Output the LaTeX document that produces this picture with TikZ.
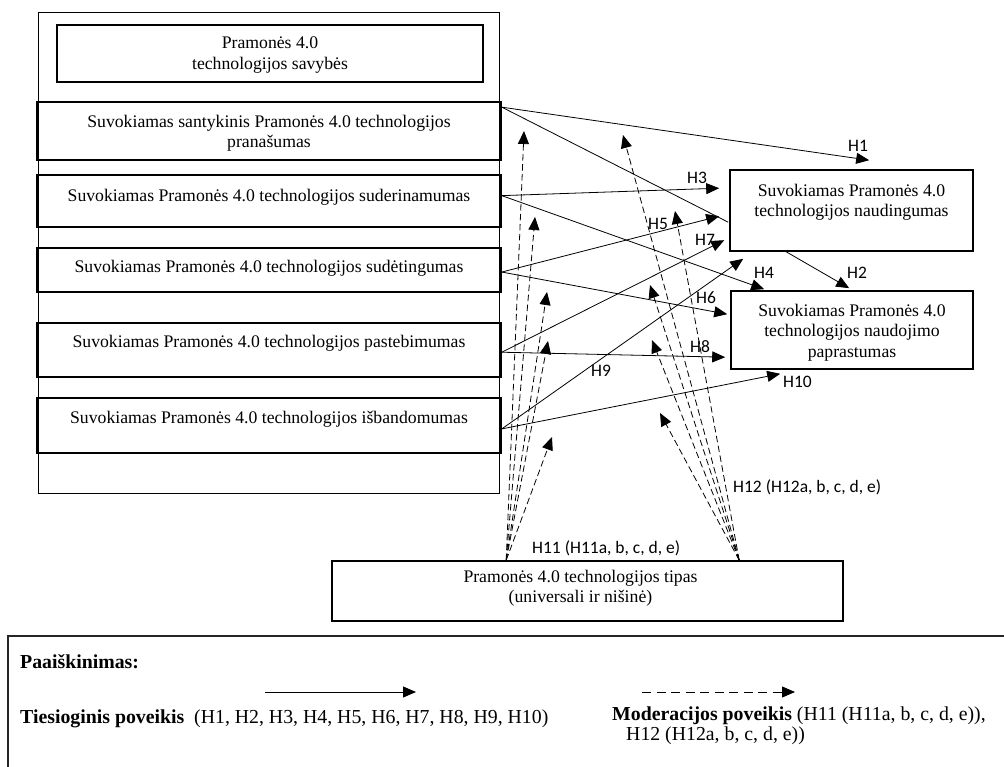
\documentclass[tikz,border=0pt]{standalone}
\usepackage{fontspec}
\setmainfont{Liberation Serif}
\newfontfamily\hypfont{Carlito}
\usetikzlibrary{arrows.meta,calc}

\tikzset{
  panel/.style={draw, line width=0.8pt, inner sep=0pt},
  factor/.style={draw, line width=1.6pt, inner sep=0pt},
  boxtext/.style={anchor=north, inner sep=0pt, align=center,
    font=\fontsize{17.7pt}{20.5pt}\selectfont},
  hyp/.style={inner sep=0pt, font=\hypfont\fontsize{17.5pt}{20pt}\selectfont},
  tip/.style={-{Triangle[length=13pt,width=11pt]}},
  direct/.style={line width=0.8pt, tip},
  moder/.style={line width=0.8pt, dash pattern=on 6.5pt off 3.5pt, tip},
  legendtext/.style={inner sep=0pt, anchor=west, align=left,
    font=\fontsize{19.8pt}{20pt}\selectfont},
}

\begin{document}
\begin{tikzpicture}[x=1pt,y=-1pt]
\clip (0,0) rectangle (1004,767);

% left panel with the technology attributes
\node[panel, minimum width=461pt, minimum height=481pt] (panel) at (268.5,252.5) {};
\node[factor, minimum width=426pt, minimum height=57pt,
  label={[boxtext,yshift=-12.4pt]north:Pramonės 4.0\\technologijos savybės}] (title) at (270,53.5) {};
\node[factor, minimum width=464pt, minimum height=58pt,
  label={[boxtext,yshift=-13.4pt]north:Suvokiamas santykinis Pramonės 4.0 technologijos\\pranašumas}] (b1) at (269,131) {};
\node[factor, minimum width=464pt, minimum height=52pt,
  label={[boxtext,yshift=-14.4pt]north:Suvokiamas Pramonės 4.0 technologijos suderinamumas}] (b2) at (269,201) {};
\node[factor, minimum width=464pt, minimum height=44pt,
  label={[boxtext,yshift=-12.4pt]north:Suvokiamas Pramonės 4.0 technologijos sudėtingumas}] (b3) at (269,270) {};
\node[factor, minimum width=464pt, minimum height=54pt,
  label={[boxtext,yshift=-12.4pt]north:Suvokiamas Pramonės 4.0 technologijos pastebimumas}] (b4) at (269,350) {};
\node[factor, minimum width=464pt, minimum height=55pt,
  label={[boxtext,yshift=-13.4pt]north:Suvokiamas Pramonės 4.0 technologijos išbandomumas}] (b5) at (269,425.5) {};

% outcome constructs
\node[factor, minimum width=243pt, minimum height=81pt,
  label={[boxtext,yshift=-14.4pt]north:Suvokiamas Pramonės 4.0\\technologijos naudingumas}] (A) at (851.5,210.5) {};
\node[factor, minimum width=242pt, minimum height=78pt,
  label={[boxtext,yshift=-13.4pt]north:Suvokiamas Pramonės 4.0\\technologijos naudojimo\\paprastumas}] (B) at (852,330) {};

% moderator
\node[factor, minimum width=511pt, minimum height=60pt,
  label={[boxtext,yshift=-9.5pt,xshift=-7pt]north:Pramonės 4.0 technologijos tipas\\(universali ir nišinė)}] (T) at (587.5,591) {};

% start points on the attribute boxes
\coordinate (s1) at ($(b1.north east)!0.10!(b1.south east)$);
\coordinate (s2) at ($(b2.north east)!0.40!(b2.south east)$);
\coordinate (s3) at ($(b3.north east)!0.545!(b3.south east)$);
\coordinate (s4) at ($(b4.north east)!0.54!(b4.south east)$);
\coordinate (s5) at ($(b5.north east)!0.56!(b5.south east)$);

% end points near the outcome boxes
\coordinate (tH1) at ($(A.north west)+(140,-9)$);
\coordinate (eA1) at ($(A.north west)+(-1,53)$);
\coordinate (tH3) at ($(A.north west)+(-10,19)$);
\coordinate (tH5) at ($(A.north west)+(-10,47)$);
\coordinate (tH7) at ($(A.north west)+(-5,71)$);
\coordinate (tH9) at ($(A.south west)+(14,7)$);
\coordinate (sH2) at ($(A.south west)+(57,0)$);
\coordinate (tH2) at ($(B.north west)+(119,-2)$);
\coordinate (tH4) at ($(B.north west)+(34,-1)$);
\coordinate (tH6) at ($(B.north west)+(-3,24)$);
\coordinate (tH8) at ($(B.north west)+(-5,67)$);
\coordinate (tH10) at ($(B.south west)+(50,4)$);

% direct effects
\draw[direct] (s1) -- (tH1);
\draw[line width=0.8pt] (s1) -- (eA1);
\draw[direct] (s2) -- (tH3);
\draw[direct] (s2) -- (tH4);
\draw[direct] (s3) -- (tH5);
\draw[direct] (s3) -- (tH6);
\draw[direct] (s4) -- (tH7);
\draw[direct] (s4) -- (tH8);
\draw[direct] (s5) -- (tH9);
\draw[direct] (s5) -- (tH10);
\draw[direct] (sH2) -- (tH2);

% moderating effects
\coordinate (dl) at ($(T.north west)+(175,0)$);
\coordinate (dr) at ($(T.north west)+(408,0)$);
\coordinate (m1) at (524,131);
\coordinate (m2) at (535,217);
\coordinate (m3) at (547,292);
\coordinate (m4) at (548,341);
\coordinate (m5) at (552,437);
\coordinate (n1) at (623,135);
\coordinate (n2) at (675,211);
\coordinate (n3) at (650,285);
\coordinate (n4) at (652,340);
\coordinate (n5) at (660,413);
\foreach \m in {m1,m2,m3,m4,m5} \draw[moder] (dl) -- (\m);
\foreach \n in {n1,n2,n3,n4,n5} \draw[moder] (dr) -- (\n);

% hypothesis labels
\node[hyp] (lH1) at (858,146) {H1};
\node[hyp] (lH2) at (857,273) {H2};
\node[hyp] (lH3) at (697,178) {H3};
\node[hyp] (lH4) at (764,273) {H4};
\node[hyp] (lH5) at (658,224) {H5};
\node[hyp] (lH6) at (706,298) {H6};
\node[hyp] (lH7) at (705,240) {H7};
\node[hyp] (lH8) at (700,347) {H8};
\node[hyp] (lH9) at (601,371) {H9};
\node[hyp, anchor=west] (lH10) at (783,382) {H10};
\node[hyp, anchor=west] (lH11) at (532,548) {H11 (H11a, b, c, d, e)};
\node[hyp, anchor=west] (lH12) at (733,487) {H12 (H12a, b, c, d, e)};

% legend
\draw[line width=1.6pt, draw=black!85] (8,636) rectangle (1030,800);
\node[legendtext] (lgtitle) at (20,662) {\textbf{Paaiškinimas:}};
\coordinate (la) at (265,692);
\coordinate (lb) at (416,692);
\coordinate (lc) at (642,692);
\coordinate (ld) at (795,692);
\draw[line width=0.9pt, tip] (la) -- (lb);
\draw[line width=0.9pt, dash pattern=on 9pt off 5.5pt, tip] (lc) -- (ld);
\node[legendtext] (lgdirect) at (20,719) {\textbf{Tiesioginis poveikis}\ \ (H1, H2, H3, H4, H5, H6, H7, H8, H9, H10)};
\node[legendtext, anchor=north west] (lgmoder) at (612,707) {\textbf{Moderacijos poveikis} (H11 (H11a, b, c, d, e)),\\\hspace*{14pt}H12 (H12a, b, c, d, e))};
\end{tikzpicture}
\end{document}
